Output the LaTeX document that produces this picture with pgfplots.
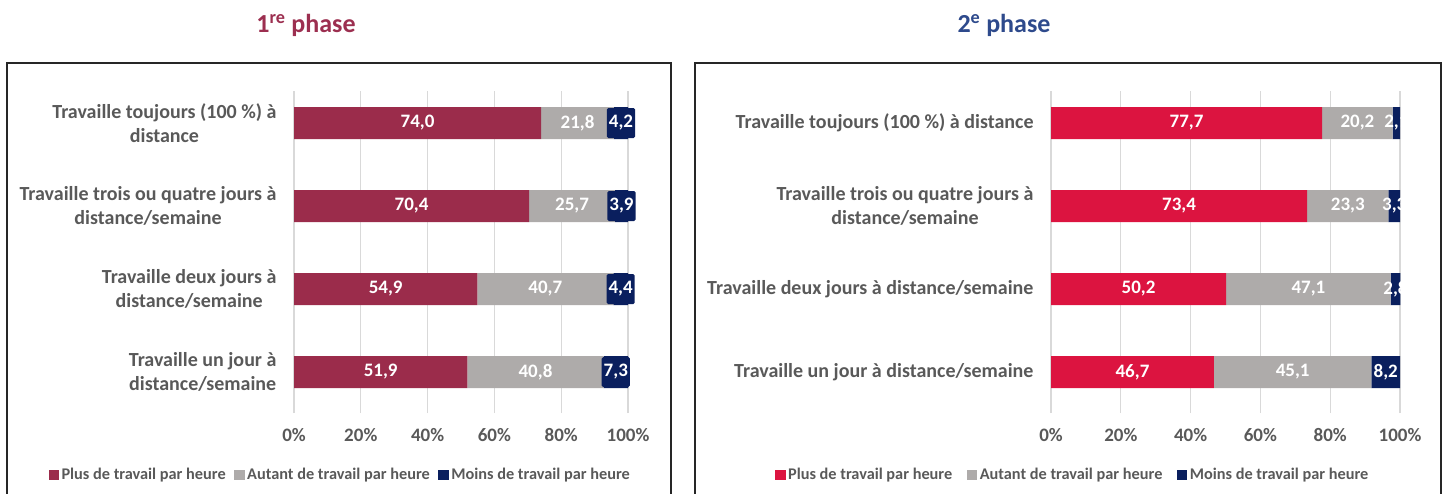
\documentclass[border=0pt]{standalone}
\usepackage{fontspec}
\setmainfont{Carlito}
\usepackage{pgfplots}
\usepackage{pgfplotstable}
\pgfplotsset{compat=1.18}
\definecolor{maroonbar}{HTML}{9B2C4B}
\definecolor{greybar}{HTML}{AEABAA}
\definecolor{navybar}{HTML}{0A1F5E}
\definecolor{redbar}{HTML}{DC1440}
\definecolor{labgray}{HTML}{595959}
\definecolor{gridgray}{HTML}{D9D9D9}
\definecolor{titlemaroon}{HTML}{9C2F50}
\definecolor{titleblue}{HTML}{2E4A8C}

\pgfplotstableread{
c v1 v2 v3
0 51.9 40.8 7.3
1 54.9 40.7 4.4
2 70.4 25.7 3.9
3 74.0 21.8 4.2
}\phaseone
\pgfplotstableread{
c v1 v2 v3
0 46.7 45.1 8.2
1 50.2 47.1 2.8
2 73.4 23.3 3.3
3 77.7 20.2 2.1
}\phasetwo

\pgfplotsset{
  phasebars/.style={
    xbar stacked,
    scale only axis,
    height=322pt,
    bar width=32pt,
    clip=false,
    xmin=0, xmax=100,
    ymin=-0.494, ymax=3.386,
    xtick={0,20,...,100},
    xticklabel={\pgfmathprintnumber{\tick}\%},
    ytick={0,1,2,3},
    xmajorgrids,
    major grid style={gridgray, line width=1.2pt},
    axis line style={draw=none},
    tick style={draw=none},
    /pgf/number format/assume math mode=true,
    tick label style={font=\fontsize{19}{23}\selectfont\bfseries, text=labgray},
    yticklabel style={font=\fontsize{20}{23.5}\selectfont\bfseries, align=center, xshift=-14pt},
    xticklabel style={yshift=-12pt},
    legend columns=3,
    legend style={draw=none, fill=none, font=\fontsize{16.3}{19}\selectfont\bfseries, text=labgray, anchor=center,
      nodes={inner xsep=2.5pt}},
    legend image code/.code={\fill[##1] (0pt,-5.3pt) rectangle (10.5pt,5.3pt);},
  },
  labelaxis/.style={
    scale only axis,
    height=322pt,
    hide axis,
    clip=false,
    xmin=0, xmax=100,
    ymin=-0.494, ymax=3.386,
    /pgf/number format/assume math mode=true,
    nodes near coords={\pgfmathprintnumber[fixed,fixed zerofill,precision=1,use comma,assume math mode=true]{\pgfplotspointmeta}},
    every node near coord/.append style={anchor=center, font=\fontsize{19}{23}\selectfont\bfseries, text=white},
  },
}

\begin{document}
\begin{tikzpicture}
\path[use as bounding box] (0pt,0pt) rectangle (1447pt,-493pt);
\clip (0pt,0pt) rectangle (1447pt,-493pt);

\node[font=\fontsize{26}{30}\selectfont\bfseries, text=titlemaroon] at (306pt,-25pt) {1\textsuperscript{re} phase};
\node[font=\fontsize{26}{30}\selectfont\bfseries, text=titleblue] at (1004pt,-25pt) {2\textsuperscript{e} phase};

\draw[line width=1.3pt, black!85] (7pt,-63pt) rectangle (671pt,-540pt);
\draw[line width=1.3pt, black!85] (695pt,-63pt) rectangle (1441pt,-540pt);

% ---------- 1re phase ----------
\begin{axis}[phasebars, width=334pt, at={(294pt,-413pt)}, anchor=south west,
  yticklabels={{Travaille un jour à\\distance/semaine},{Travaille deux jours à\\distance/semaine},{Travaille trois ou quatre jours à\\distance/semaine},{Travaille toujours (100 \%) à\\distance}},
  legend style={at={(0.139,-0.1925)}, /tikz/every even column/.append style={column sep=6pt}}]
\addplot[fill=maroonbar, draw=none] table[x=v1, y=c] {\phaseone};
\addplot[fill=greybar, draw=none] table[x=v2, y=c] {\phaseone};
\addplot[fill=navybar, draw=none] table[x=v3, y=c] {\phaseone};
\legend{Plus de travail par heure, Autant de travail par heure, Moins de travail par heure}
\end{axis}
\begin{axis}[labelaxis, width=334pt, at={(294pt,-413pt)}, anchor=south west]
\addplot[only marks, mark=none, point meta=\thisrow{v1}] table[x expr=\thisrow{v1}/2, y=c] {\phaseone};
\addplot[only marks, mark=none, point meta=\thisrow{v2}] table[x expr=\thisrow{v1}+\thisrow{v2}/2, y=c] {\phaseone};
\addplot[only marks, mark=none, point meta=\thisrow{v3},
  every node near coord/.append style={fill=navybar, inner xsep=2pt, inner ysep=0pt, minimum height=30pt, rounded corners=1.5pt}]
  table[x expr=\thisrow{v1}+\thisrow{v2}+\thisrow{v3}/2, y=c] {\phaseone};
\end{axis}

% ---------- 2e phase ----------
\begin{axis}[phasebars, width=349pt, at={(1051pt,-413pt)}, anchor=south west,
  yticklabels={{Travaille un jour à distance/semaine},{Travaille deux jours à distance/semaine},{Travaille trois ou quatre jours à\\distance/semaine},{Travaille toujours (100 \%) à distance}},
  legend style={at={(0.063,-0.1925)}, /tikz/every even column/.append style={column sep=12pt}}]
\addplot[fill=redbar, draw=none] table[x=v1, y=c] {\phasetwo};
\addplot[fill=greybar, draw=none] table[x=v2, y=c] {\phasetwo};
\addplot[fill=navybar, draw=none] table[x=v3, y=c] {\phasetwo};
\legend{Plus de travail par heure, Autant de travail par heure, Moins de travail par heure}
\end{axis}
\begin{axis}[labelaxis, width=349pt, at={(1051pt,-413pt)}, anchor=south west]
\addplot[only marks, mark=none, point meta=\thisrow{v1}] table[x expr=\thisrow{v1}/2, y=c] {\phasetwo};
\addplot[only marks, mark=none, point meta=\thisrow{v2}] table[x expr=\thisrow{v1}+\thisrow{v2}/2, y=c] {\phasetwo};
\addplot[only marks, mark=none, point meta=\thisrow{v3}] table[x expr=\thisrow{v1}+\thisrow{v2}+\thisrow{v3}/2, y=c] {\phasetwo};
\end{axis}
\end{tikzpicture}
\end{document}
